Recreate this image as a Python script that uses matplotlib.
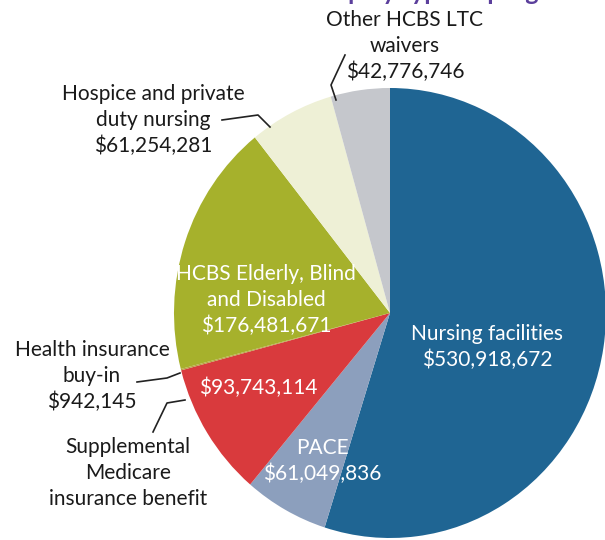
import matplotlib
matplotlib.use("Agg")
import matplotlib.pyplot as plt
from matplotlib.lines import Line2D

# ---- data ----
categories = [
    "Nursing facilities",
    "PACE",
    "Supplemental\nMedicare\ninsurance benefit",
    "Health insurance\nbuy-in",
    "HCBS Elderly, Blind\nand Disabled",
    "Hospice and private\nduty nursing",
    "Other HCBS LTC\nwaivers",
]
values = [530918672, 61049836, 93743114, 942145, 176481671, 61254281, 42776746]
colors = ["#1f6593", "#8c9fbd", "#d93a3d", "#b8a040", "#a6b12c", "#eef0d6", "#c5c7cc"]
title = "Membership by type of program"

W, H = 605, 540
fig = plt.figure(figsize=(W / 100, H / 100), dpi=100)

def fx(x):
    return x / W

def fy(y):
    return 1 - y / H

cx, cy, rx, ry = 390, 313, 216, 225
ax = fig.add_axes([fx(cx - rx), fy(cy + ry), 2 * rx / W, 2 * ry / H])
ax.pie(values, startangle=90, counterclock=False, colors=colors,
       wedgeprops=dict(linewidth=0))
ax.set_aspect("auto")
ax.set_xlim(-1, 1)
ax.set_ylim(-1, 1)
ax.axis("off")

font = ["Lato", "DejaVu Sans"]
fs = 15

def money(v):
    return f"${v:,}"

def label(x, y, text, color):
    fig.text(fx(x), fy(y), text, ha="center", va="center", fontsize=fs,
             color=color, family=font, linespacing=1.35)

def leader(pts):
    xs = [fx(p[0]) for p in pts]
    ys = [fy(p[1]) for p in pts]
    fig.add_artist(Line2D(xs, ys, color="#222222", lw=1.2,
                          transform=fig.transFigure))

# inside labels (white)
label(487, 347, f"{categories[0]}\n{money(values[0])}", "white")
label(322, 461, f"{categories[1]}\n{money(values[1])}", "white")
label(258, 388, money(values[2]), "white")
label(266, 300, f"{categories[4]}\n{money(values[4])}", "white")

# outside labels (black)
label(405, 46, f"{categories[6]}\n{money(values[6])}", "#1a1a1a")
label(153, 120, f"{categories[5]}\n{money(values[5])}", "#1a1a1a")
label(92, 376, f"{categories[3]}\n{money(values[3])}", "#1a1a1a")
label(128, 473, categories[2], "#1a1a1a")

leader([(345, 55), (331, 85), (336, 100)])
leader([(222, 120), (258, 115), (270, 127)])
leader([(137, 382), (167, 378), (180, 373)])
leader([(153, 432), (167, 403), (185, 400)])

# title (cut off at the top of the picture, as in the source image)
fig.text(fx(222), fy(-0.5), title, ha="left", va="baseline", fontsize=18,
         fontweight="bold", color="#5b3f9c", family=font)

fig.savefig("out.png", dpi=100)
